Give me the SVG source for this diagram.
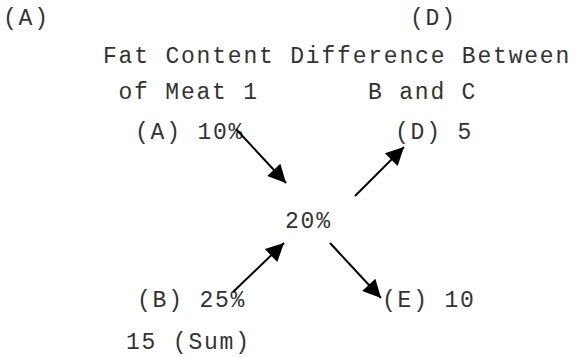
<svg xmlns="http://www.w3.org/2000/svg" width="578" height="357" viewBox="0 0 578 357">
<style>
text{font-family:"Liberation Mono","Courier New",monospace;font-size:23px;letter-spacing:1.8px;fill:#333;}
.c{stroke:#000;stroke-width:2;fill:none;marker-end:url(#ah);}
</style>
<defs>
<marker id="ah" viewBox="0 0 10 10" refX="10" refY="5" markerUnits="userSpaceOnUse" markerWidth="22" markerHeight="18" orient="auto">
<path d="M0,0 L10,5 L0,10 z" fill="#000"/>
</marker>
</defs>
<rect width="578" height="357" fill="#fff"/>
<g id="headerA"><text x="3" y="25">(A)</text></g>
<g id="headerD"><text x="410" y="25">(D)</text></g>
<g id="titles">
<text x="103" y="63">Fat Content Difference Between</text>
</g>
<g id="labelA"><text x="118.5" y="99">of Meat 1</text></g>
<g id="labelD"><text x="368" y="99">B and C</text></g>
<g id="nodeA"><text x="135" y="139">(A) 10%</text></g>
<g id="nodeD"><text x="395" y="139">(D) 5</text></g>
<g id="center"><text x="285" y="228">20%</text></g>
<g id="nodeB"><text x="137" y="307">(B) 25%</text></g>
<g id="nodeE"><text x="382" y="307">(E) 10</text></g>
<g id="sum"><text x="126" y="349">15 (Sum)</text></g>
<g id="connectors">
<line class="c" x1="236" y1="129" x2="286" y2="183"/>
<line class="c" x1="355" y1="196" x2="404" y2="147"/>
<line class="c" x1="233" y1="292" x2="284" y2="243"/>
<line class="c" x1="330" y1="243" x2="381" y2="298"/>
</g>
</svg>
